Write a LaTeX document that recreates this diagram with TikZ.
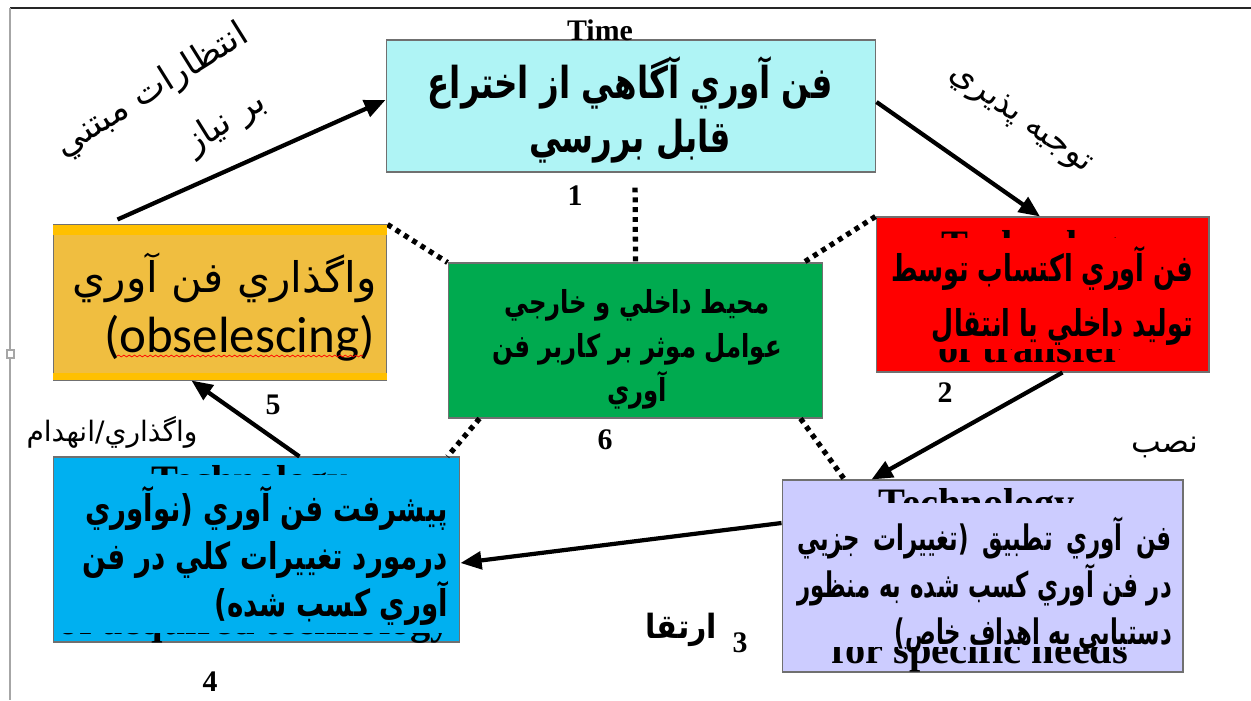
\documentclass[tikz,border=0pt]{standalone}
\usepackage{fontspec}
\usetikzlibrary{arrows.meta,decorations.pathmorphing}
\TeXXeTstate=1
\newfontfamily\arabicfont[Script=Arabic]{DejaVu Sans}
\newfontfamily\parenfont{DejaVu Sans}
\newfontfamily\serifb{Liberation Serif}
\newfontfamily\carlito{Carlito}
\newcommand\lpar{\hbox{\parenfont\bfseries (}}
\newcommand\rpar{\hbox{\parenfont\bfseries )}}
\definecolor{cyanbox}{HTML}{AFF4F5}
\definecolor{yelbox}{HTML}{F0BE40}
\definecolor{yelstripe}{HTML}{FFC000}
\definecolor{grnbox}{HTML}{00AA4F}
\definecolor{redbox}{HTML}{FF0000}
\definecolor{purbox}{HTML}{CCCCFF}
\definecolor{blubox}{HTML}{00B0F0}
\definecolor{boxline}{HTML}{707070}
\tikzset{
  box/.style={draw=boxline, line width=0.6pt, inner sep=0pt},
  arr/.style={line width=2.4pt, -{Triangle[length=12pt,width=10pt]}},
  dots/.style={line width=3pt, dash pattern=on 2.8pt off 2.8pt},
  num/.style={font=\serifb\bfseries\fontsize{17}{17}\selectfont, inner sep=0pt},
  fab/.style={font=\arabicfont\bfseries\fontsize{21}{27}\selectfont, inner sep=0pt},
  far/.style={font=\arabicfont\fontsize{16}{22}\selectfont, inner sep=0pt},
  ghost/.style={font=\serifb\bfseries\fontsize{23}{23}\selectfont, inner sep=0pt},
}
\begin{document}
\begin{tikzpicture}[x=0.02cm,y=-0.02cm]
\useasboundingbox (0,0) rectangle (1251,700);
% frame
\draw[line width=1.2pt, black!85] (10,8) -- (1251,8);
\draw[line width=0.8pt, black!35] (10,8) -- (10,700);
\draw[line width=0.6pt, black!35, fill=white] (7,350) rectangle (14,358);
% boxes
\node[box, fill=cyanbox, minimum width=9.8cm, minimum height=2.64cm] (b1) at (631,106) {};
\node[box, fill=grnbox, minimum width=7.5cm, minimum height=3.1cm] (b6) at (635.5,340.5) {};
\node[box, fill=yelbox, minimum width=6.68cm, minimum height=3.1cm] (b5) at (220,302.5) {};
\node[box, fill=redbox, minimum width=6.66cm, minimum height=3.1cm] (b2) at (1042.5,294.5) {};
\node[box, fill=purbox, minimum width=8.02cm, minimum height=3.84cm] (b3) at (982.5,576) {};
\node[box, fill=blubox, minimum width=8.14cm, minimum height=3.7cm] (b4) at (256.5,549.5) {};
% dotted connectors
\draw[dots, shorten <=15*0.02cm] ([xshift=0.08cm]b1.south) -- ([xshift=0cm]b6.north);
\draw[dots] (b5.north east) -- (b6.north west);
\draw[dots] (b2.north west) -- ([xshift=-0.4cm]b6.north east);
\draw[dots] ([xshift=0.64cm]b6.south west) -- ([xshift=-0.26cm]b4.north east);
\draw[dots] ([xshift=-0.46cm]b6.south east) -- ([xshift=1.26cm]b3.north west);
% yellow stripes
\fill[yelstripe] ([xshift=0.3pt,yshift=-0.3pt]b5.north west) rectangle ([xshift=-0.3pt,yshift=-0.22cm]b5.north east);
\fill[yelstripe] ([xshift=0.3pt,yshift=0.3pt]b5.south west) rectangle ([xshift=-0.3pt,yshift=0.16cm]b5.south east);
% ghost english texts partly covered
\node[ghost] (g2a) at (1040,249) {Technology};
\node[ghost] (g2b) at (1030,348) {of transfer};
\fill[redbox] (878,238) rectangle (1207,349);
\node[ghost] (g3a) at (977,507) {Technology};
\node[ghost] (g3b) at (980,654) {for specific needs};
\fill[purbox] (784,503) rectangle (1181,647);
\node[ghost] (g4a) at (250,484) {Technology};
\node[ghost] (g4b) at (255,625) {of acquired technology};
\fill[blubox] (55,475) rectangle (458,633);
% box texts
\node[fab, align=center, xscale=0.74, font=\arabicfont\bfseries\fontsize{25}{31}\selectfont] (t1) at (630,110) {\beginR فن آوري آگاهي از اختراع\endR\\\beginR قابل بررسي\endR};
\node[fab, align=right, anchor=east, xscale=0.69, font=\arabicfont\bfseries\fontsize{21}{31}\selectfont] (t2) at (1193,296) {\beginR فن آوري اكتساب توسط\endR\\\beginR توليد داخلي يا انتقال\endR};
\node[fab, align=right, anchor=east, xscale=0.75] (t4) at (448,556) {\beginR پيشرفت فن آوري \rpar نوآوري\endR\\\beginR درمورد تغييرات كلي در فن\endR\\\beginR آوري كسب شده\lpar\endR};
\node[fab, align=right, anchor=east, xscale=0.65, font=\arabicfont\bfseries\fontsize{20}{26.5}\selectfont] (t3) at (1172,585) {\hbox to 328pt{\beginR فن\hfill آوري\hfill تطبيق\hfill\rpar تغييرات\hfill جزيي\endR}\\\hbox to 328pt{\beginR در\hfill فن\hfill آوري\hfill كسب\hfill شده\hfill به\hfill منظور\endR}\\\beginR دستيابي به اهداف خاص\lpar\endR};
\node[fab, align=center, xscale=0.77, font=\arabicfont\bfseries\fontsize{18}{25}\selectfont] (t6) at (637,349) {\beginR محيط داخلي و خارجي\endR\\\beginR عوامل موثر بر كاربر فن\endR\\\beginR آوري\endR};
\node[far, anchor=east, font=\arabicfont\fontsize{24}{30}\selectfont] (t5) at (377,278) {\beginR واگذاري فن آوري\endR};
\node[far, anchor=east, font=\carlito\fontsize{29}{30}\selectfont] (t5b) at (375,338) {(obselescing)};
\draw[red, line width=0.4pt, decorate, decoration={snake, amplitude=0.5pt, segment length=3pt}] (117,356) -- (363,356);
% arrows
\draw[arr] ([xshift=1.3cm,yshift=0.1cm]b5.north west) -- ([yshift=0.12cm]b1.west);
\draw[arr] ([yshift=0.08cm]b1.east) -- ([xshift=-0.05cm]b2.north);
\draw[arr] ([xshift=0.4cm]b2.south) -- ([xshift=1.8cm]b3.north west);
\draw[arr] ([yshift=1.06cm]b3.west) -- ([yshift=-0.27cm]b4.east);
\draw[arr] ([xshift=4.94cm]b4.north west) -- ([xshift=2.78cm]b5.south west);
% labels
\node[num] (time) at (600,30) {Time};
\node[num] (n1) at (575,196) {1};
\node[num] (n2) at (945,393) {2};
\node[num] (n3) at (740,643) {3};
\node[num] (n4) at (210,682) {4};
\node[num] (n5) at (273,405) {5};
\node[num] (n6) at (605,440) {6};
\node[far, rotate=32, font=\arabicfont\fontsize{20}{22}\selectfont] (l1a) at (152,91) {\beginR انتظارات مبتني\endR};
\node[far, rotate=32, font=\arabicfont\fontsize{20}{22}\selectfont] (l1b) at (226,123) {\beginR بر نياز\endR};
\node[far, rotate=-35, font=\arabicfont\fontsize{19}{22}\selectfont] (l2) at (1020,120) {\beginR توجيه پذيري\endR};
\node[far, font=\arabicfont\fontsize{18}{22}\selectfont] (l3) at (1165,447) {\beginR نصب\endR};
\node[far, xscale=0.9, font=\arabicfont\bfseries\fontsize{19}{22}\selectfont] (l4) at (681,630) {\beginR ارتقا\endR};
\node[far] (l5) at (112,432) {\beginR واگذاري/انهدام\endR};
\end{tikzpicture}
\end{document}
